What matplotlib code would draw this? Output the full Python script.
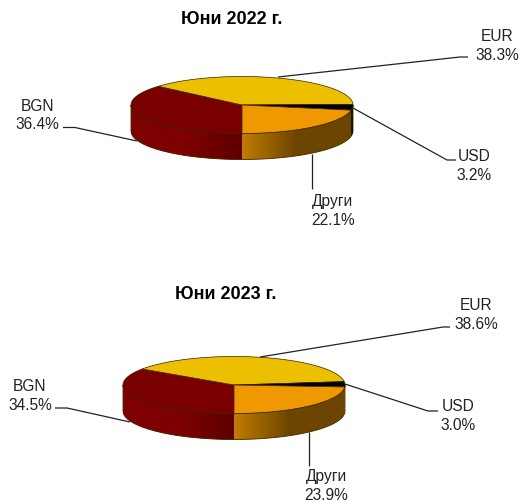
import numpy as np
import matplotlib
matplotlib.use("Agg")
import matplotlib.pyplot as plt
from matplotlib.patches import Polygon
from matplotlib.colors import LinearSegmentedColormap

plt.rcParams['font.family'] = ['Liberation Sans', 'DejaVu Sans']

# order is clockwise from 6 o'clock, as in the original
names = ["BGN", "EUR", "USD", "Други"]
values_2022 = [36.4, 38.3, 3.2, 22.1]
values_2023 = [34.5, 38.6, 3.0, 23.9]
colors = ["#7a0000", "#ecc000", "#000000", "#f09800"]
side_colors = [["#7e0000", "#7e0000", "#5e0000"], None, ["#000000", "#000000"], ["#c07d00", "#6c4500", "#6c4500"]]

RX, RY, DEPTH = 111, 28.5, 26


def arc(cx, cy, a0, a1, dy=0):
    t = np.radians(np.linspace(a0, a1, 100))
    return np.column_stack([cx + RX * np.cos(t), cy - RY * np.sin(t) + dy])


def draw_pie(ax, cx, cy, values):
    angles = 270 - np.cumsum([0] + values) * 3.6

    # side wall, only the front half of the ellipse can be seen
    for i, val in enumerate(values):
        a0, a1 = angles[i + 1], angles[i]
        if a1 <= 180:
            a0, a1 = a0 + 360, a1 + 360
        a0, a1 = max(a0, 180), min(a1, 360)
        if a0 >= a1:
            continue
        front = arc(cx, cy, a0, a1)
        poly = np.vstack([front, arc(cx, cy, a1, a0, DEPTH)])
        p = Polygon(poly, closed=True, fc=colors[i], ec="none", zorder=2)
        ax.add_patch(p)
        if side_colors[i] is not None:
            cmap = LinearSegmentedColormap.from_list("side", side_colors[i])
            x0, x1 = poly[:, 0].min(), poly[:, 0].max()
            im = ax.imshow(np.linspace(0, 1, 128).reshape(1, -1), cmap=cmap, aspect="auto", zorder=2.5,
                           extent=[x0, x1, cy + RY + DEPTH + 2, cy - 2])
            im.set_clip_path(p)

    # outline of the wall
    outline = np.vstack([arc(cx, cy, 180, 360), arc(cx, cy, 360, 180, DEPTH)])
    ax.add_patch(Polygon(outline, closed=True, fc="none", ec="#4a2a00", lw=0.6, zorder=3))

    # top of the pie
    for i, val in enumerate(values):
        edge = arc(cx, cy, angles[i + 1], angles[i])
        ax.add_patch(Polygon(np.vstack([[cx, cy], edge]), closed=True, fc=colors[i], ec="#3a2000", lw=0.5, zorder=4))


def leader(ax, xs, ys):
    ax.plot(xs, ys, color="#222222", lw=0.9, zorder=1, solid_capstyle="butt")


def label(ax, x, y, name, val):
    ax.text(x, y, "%s\n%.1f%%" % (name, val), ha="center", va="center", fontsize=11.2, color="#222222", linespacing=1.3)


fig = plt.figure(figsize=(5.2, 5.02), dpi=100)
ax = fig.add_axes([0, 0, 1, 1])

draw_pie(ax, 242, 106, values_2022)
ax.text(232, 19, "Юни 2022 г.", ha="center", va="center", fontsize=13, fontweight="bold")
leader(ax, [278, 460, 468], [78, 58, 58])
leader(ax, [353, 447, 456], [109, 161, 161])
leader(ax, [312, 312], [155, 190])
leader(ax, [63, 75, 137], [128.5, 128.5, 142])
label(ax, 497, 46, names[1], values_2022[1])
label(ax, 474, 166, names[2], values_2022[2])
label(ax, 333, 211, names[3], values_2022[3])
label(ax, 37, 115.5, names[0], values_2022[0])

draw_pie(ax, 234, 386, values_2023)
ax.text(226, 295, "Юни 2023 г.", ha="center", va="center", fontsize=13, fontweight="bold")
leader(ax, [260, 443, 450], [358, 328, 328])
leader(ax, [345, 428, 438], [385, 412, 412])
leader(ax, [309, 309], [433, 467])
leader(ax, [55, 67, 130], [409, 409, 423])
label(ax, 476, 315, names[1], values_2023[1])
label(ax, 458, 416, names[2], values_2023[2])
label(ax, 326, 486, names[3], values_2023[3])
label(ax, 30, 396, names[0], values_2023[0])

ax.set_xlim(0, 520)
ax.set_ylim(502, 0)
ax.axis("off")

fig.savefig("out.png", dpi=100)
